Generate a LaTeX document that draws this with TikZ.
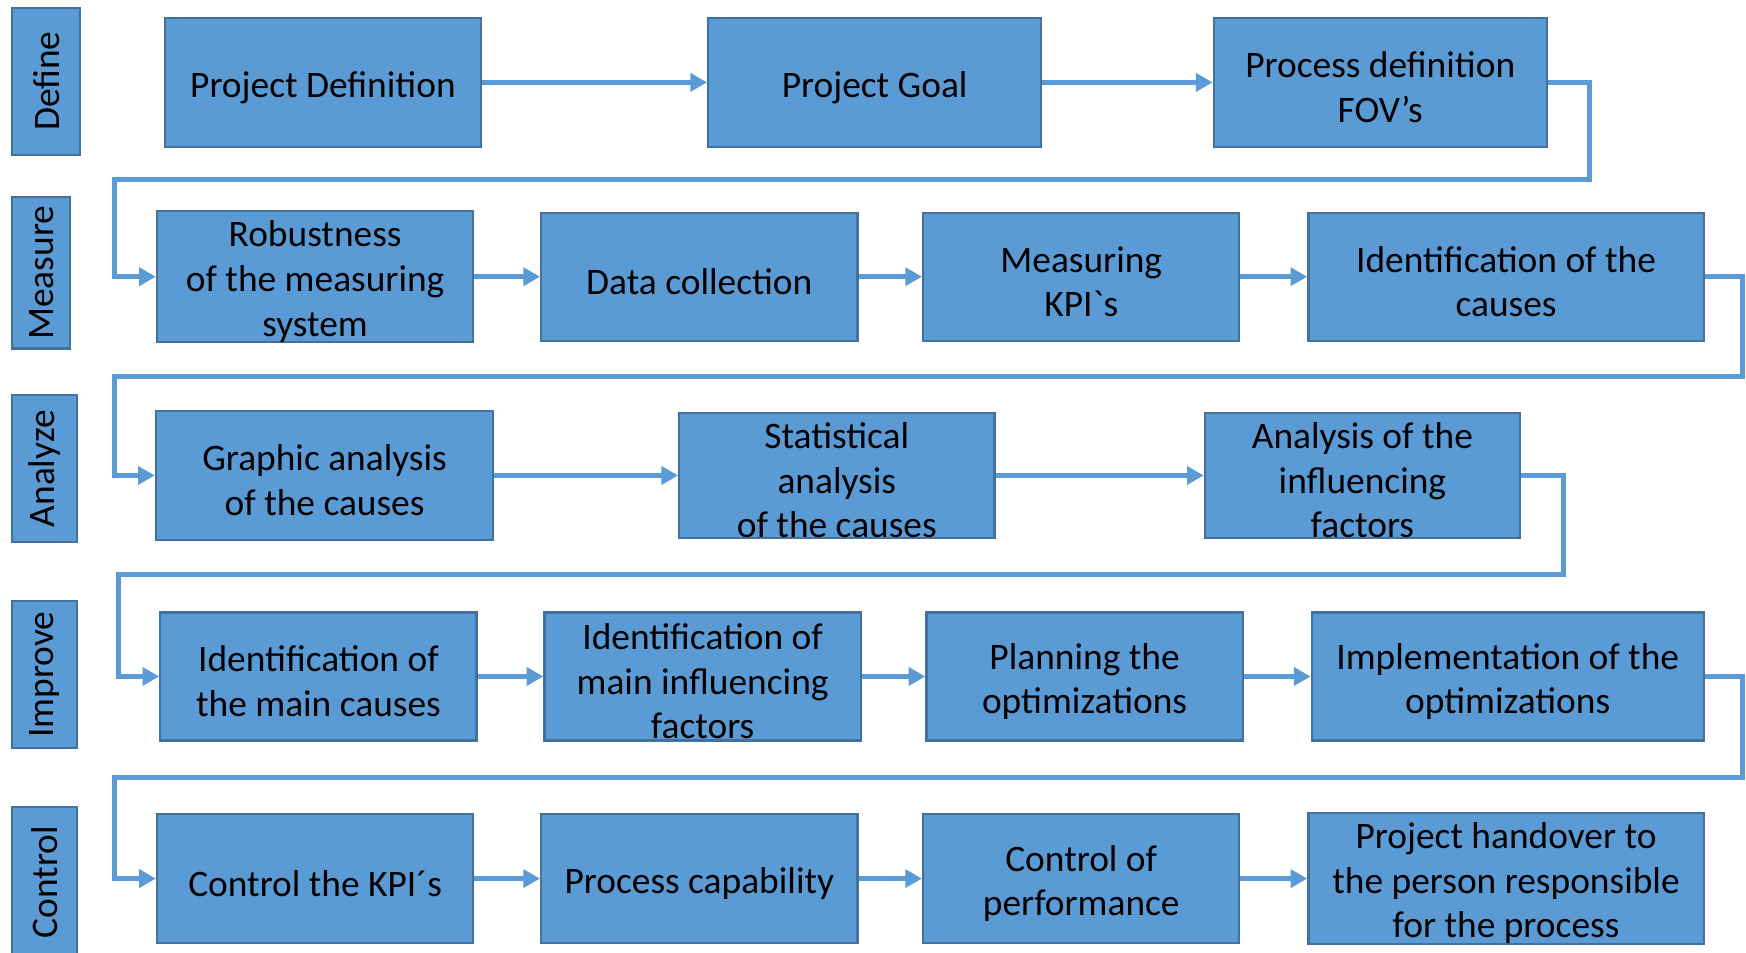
\documentclass[tikz,border=0pt]{standalone}
\usepackage{fontspec}
\setmainfont{Carlito}
\usepackage{xcolor}
\usetikzlibrary{arrows.meta}
\usetikzlibrary{positioning}
\definecolor{boxblue}{HTML}{5B9BD5}
\definecolor{edgeblue}{HTML}{41719C}

\begin{document}
\begin{tikzpicture}[x=1pt,y=-1pt,>={Triangle[length=15pt,width=16pt]},font=\fontsize{33.6}{40}\selectfont]
 \tikzstyle{box}=[draw=edgeblue, line width=2pt, fill=boxblue, align=flush center, inner sep=0pt]
 \tikzstyle{proc}=[box, minimum height=116pt, text width=284pt, execute at begin node={\noindent\rule{0pt}{32pt}}]
 \tikzstyle{phase}=[box, rotate=90, minimum height=58pt, minimum width=132pt]
 \tikzstyle{flow}=[->, draw=boxblue, line width=4.5pt]
 \clip (0,0) rectangle (1568,855);
 % phases
 \node[phase, minimum height=61pt] (define)  at (41.5,73) {Define};
 \node[phase, minimum height=52pt, minimum width=136pt] (measure) at (37,245) {Measure};
 \node[phase] (analyze) at (40,421) {Analyze};
 \node[phase] (improve) at (40,606) {Improve};
 \node[phase, minimum width=134pt] (control) at (40,792) {Control};
 % define
 \node[proc] (pdef) at (290,74) {Project Definition};
 \node[proc, text width=299pt, right=202pt of pdef] (pgoal) {Project Goal};
 \node[proc, text width=299pt, right=153pt of pgoal] (procdef) {Process definition\\FOV’s};
 % measure
 \node[proc, minimum height=115pt] (robust) at (283,248.5) {Robustness\\of the measuring\\system};
 \node[proc, minimum height=115pt, right=59pt of robust] (datacol) {Data collection};
 \node[proc, minimum height=115pt, right=57pt of datacol] (kpi) {Measuring\\KPI\textasciigrave s};
 \node[proc, minimum height=115pt, text width=355pt, right=60pt of kpi] (idcause) {Identification of the\\causes};
 % analyze
 \node[proc, text width=303pt] (graph) at (291.5,427) {Graphic analysis\\of the causes};
 \node[proc, minimum height=110pt, text width=283pt, right=165pt of graph] (stat) {Statistical\\analysis\\of the causes};
 \node[proc, minimum height=110pt, text width=283pt, right=187pt of stat] (infl) {Analysis of the\\influencing\\factors};
 % improve
 \node[proc, minimum height=115pt] (idmain) at (286,607.5) {Identification of\\the main causes};
 \node[proc, minimum height=115pt, right=59pt of idmain] (idinfl) {Identification of\\main influencing\\factors};
 \node[proc, minimum height=115pt, right=57pt of idinfl] (plan) {Planning the\\optimizations};
 \node[proc, minimum height=115pt, text width=352pt, right=60pt of plan] (impl) {Implementation of the\\optimizations};
 % control
 \node[proc] (ctrlkpi) at (283,789) {Control the KPI´s};
 \node[proc, right=59pt of ctrlkpi] (capab) {Process capability};
 \node[proc, right=57pt of capab] (ctrlperf) {Control of\\performance};
 \node[proc, text width=355pt, right=60pt of ctrlperf] (handover) {Project handover to\\the person responsible\\for the process};
 % flow in the rows
 \draw[flow] (pdef) -- (pgoal);
 \draw[flow] (pgoal) -- (procdef);
 \draw[flow] (robust) -- (datacol);
 \draw[flow] (datacol) -- (kpi);
 \draw[flow] (kpi) -- (idcause);
 \draw[flow] (graph) -- (stat);
 \draw[flow] (stat) -- (infl);
 \draw[flow] (idmain) -- (idinfl);
 \draw[flow] (idinfl) -- (plan);
 \draw[flow] (plan) -- (impl);
 \draw[flow] (ctrlkpi) -- (capab);
 \draw[flow] (capab) -- (ctrlperf);
 \draw[flow] (ctrlperf) -- (handover);
 % flow between the rows
 \draw[flow] (procdef.east) -- ++(37,0) |- (103,161) |- (robust.west);
 \draw[flow] (idcause.east) -- ++(34,0) |- (103,338) |- (graph.west);
 \draw[flow] (infl.east) -- ++(38,0) |- (106,516) |- (idmain.west);
 \draw[flow] (impl.east) -- ++(34,0) |- (103,698) |- (ctrlkpi.west);
\end{tikzpicture}
\end{document}
